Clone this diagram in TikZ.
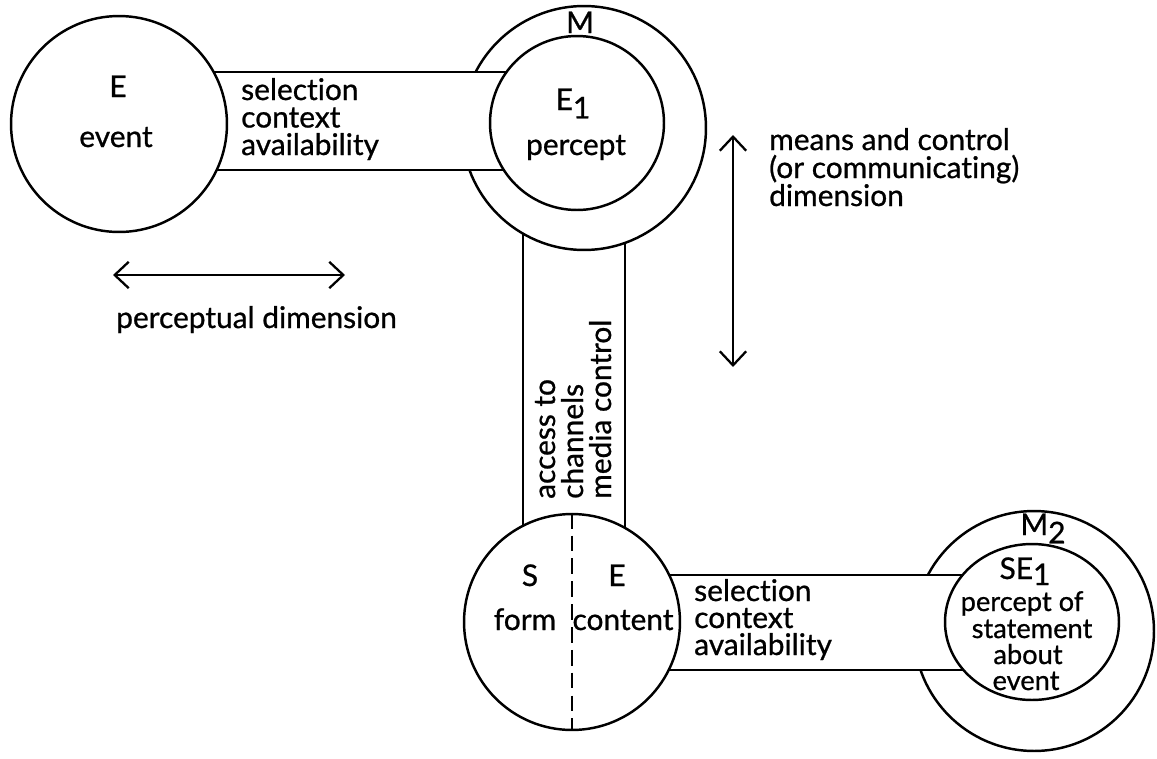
\documentclass[tikz,border=0pt]{standalone}
\usepackage{fontspec}
\setmainfont{Lato}[Ligatures={NoCommon},FakeBold=0.8]
\usetikzlibrary{arrows.meta,shapes.geometric}
\begin{document}
\begin{tikzpicture}[x=0.02cm,y=-0.02cm,
  line width=1.4pt,
  ring/.style={circle,draw,fill=white,inner sep=0pt,minimum size=#1},
  bandbox/.style={draw,fill=white},
  lbl/.style={inner sep=0pt,font=\fontsize{17}{17}\selectfont},
  lblw/.style={lbl,anchor=base west},
  lblc/.style={lbl,anchor=base},
  small/.style={font=\fontsize{15.5}{15.5}\selectfont},
  barb/.tip={Straight Barb[length=8pt,width=15pt]},
  dimarrow/.style={barb-barb,line width=1.3pt},
]
\useasboundingbox (0,0) rectangle (1157,758);

% vertical band (channel between M and the S/E circle)
\draw[bandbox] (523,128) rectangle (625,622);

% outer rings
\node[ring=4.88cm] (M) at (584,128) {};
\node[ring=4.8cm] (M2) at (1034,631) {};

% horizontal bands
\draw[bandbox] (119,72) rectangle (577,170);
\draw[bandbox] (572,575) rectangle (1032,670);

% inner circles
\node[ring=4.32cm] (E) at (119,124) {};
\node[ring=3.48cm] (E1) at (577,123) {};
\node[ring=4.32cm] (SEc) at (572,622) {};
\node[ellipse,draw,fill=white,inner sep=0pt,minimum width=3.48cm,minimum height=3.12cm] (SE1) at (1032,622) {};
\draw[dash pattern=on 9pt off 4pt] (SEc.north) -- (SEc.south);

% event circle
\node[lblc] (tE) at (118,97) {E};
\node[lblc] (tEvent) at (116,147) {event};

% first band
\node[lblw] (s1a) at (240,100) {selection};
\node[lblw] (s1b) at (240,127.5) {context};
\node[lblw] (s1c) at (240,155) {availability};

% M ring and percept
\node[lblc] (tM) at (580,33) {M};
\node[lblc] (tE1) at (573,110) {E\raisebox{-0.55ex}{1}};
\node[lblc] (tPercept) at (576,155) {percept};

% means and control dimension
\coordinate (mcTop) at (733,135);
\coordinate (mcBot) at (733,367);
\draw[dimarrow] (mcTop) -- (mcBot);
\node[lblw] (mc1) at (768,150) {means and control};
\node[lblw] (mc2) at (768,178) {(or communicating)};
\node[lblw] (mc3) at (768,206) {dimension};

% perceptual dimension
\coordinate (pdL) at (113,275);
\coordinate (pdR) at (345,275);
\draw[dimarrow] (pdL) -- (pdR);
\node[lblw] (pd) at (115,328) {perceptual dimension};

% vertical band text
\node[lblw,rotate=90] (v1) at (555,500) {access to};
\node[lblw,rotate=90] (v2) at (583,500) {channels};
\node[lblw,rotate=90] (v3) at (611,500) {media control};

% S/E circle
\node[lblc] (tS) at (530,586) {S};
\node[lblc] (tE2) at (617,586) {E};
\node[lblc] (tForm) at (525,630) {form};
\node[lblc] (tContent) at (623,630) {content};

% second band
\node[lblw] (s2a) at (693,601) {selection};
\node[lblw] (s2b) at (693,628) {context};
\node[lblw] (s2c) at (693,655) {availability};

% M2 ring and SE1
\node[lblc] (tM2) at (1043,535) {M\raisebox{-0.55ex}{2}};
\node[lblc] (tSE1) at (1025,579) {SE\raisebox{-0.4ex}{1}};
\node[lblc,small] (p1) at (1022,611) {percept of};
\node[lblc,small] (p2) at (1032,638) {statement};
\node[lblc,small] (p3) at (1028,664) {about};
\node[lblc,small] (p4) at (1026,690) {event};
\end{tikzpicture}
\end{document}
